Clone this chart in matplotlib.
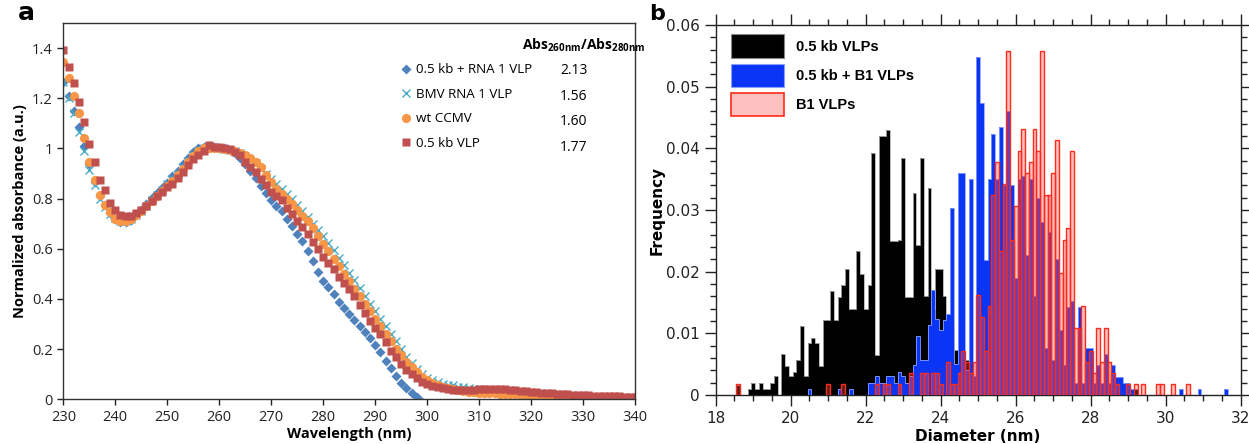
import numpy as np
import matplotlib.pyplot as plt
from matplotlib.ticker import MultipleLocator, FuncFormatter
from matplotlib.patches import Patch

# ---- panel a: normalized absorbance spectra (1 nm steps) ----
wavelength = np.arange(230, 341)

rna1_vlp = [1.265, 1.209, 1.15, 1.085, 1.01, 0.936, 0.865, 0.809, 0.776, 0.743,
            0.719, 0.705, 0.705, 0.716, 0.736, 0.756, 0.78, 0.803, 0.823, 0.843,
            0.863, 0.889, 0.909, 0.936, 0.963, 0.985, 1.0, 1.007, 1.01, 1.007,
            1.003, 1.0, 0.993, 0.98, 0.963, 0.939, 0.909, 0.883, 0.852, 0.823,
            0.796, 0.772, 0.75, 0.72, 0.692, 0.659, 0.629, 0.589, 0.552, 0.509,
            0.472, 0.447, 0.419, 0.389, 0.363, 0.339, 0.316, 0.293, 0.269, 0.243,
            0.216, 0.187, 0.153, 0.123, 0.092, 0.063, 0.043, 0.023, 0.007, -0.01,
            -0.02, -0.02, -0.02, -0.02, -0.02, -0.02, -0.02, -0.02, -0.02, -0.02,
            -0.02, -0.02, -0.02, -0.02, -0.02, -0.02, -0.02, -0.02, -0.02, -0.02,
            -0.02, -0.02, -0.02, -0.02, -0.02, -0.02, -0.02, -0.02, -0.02, -0.02,
            -0.02, -0.02, -0.02, -0.02, -0.02, -0.02, -0.02, -0.02, -0.02, -0.02,
            -0.02]
bmv_rna1 = [1.265, 1.2, 1.14, 1.065, 0.99, 0.915, 0.855, 0.8, 0.765, 0.738,
            0.722, 0.712, 0.712, 0.72, 0.735, 0.752, 0.772, 0.793, 0.815, 0.835,
            0.857, 0.878, 0.9, 0.925, 0.95, 0.972, 0.99, 1.0, 1.005, 1.002,
            1.0, 0.998, 0.995, 0.99, 0.98, 0.97, 0.955, 0.94, 0.92, 0.9,
            0.88, 0.86, 0.84, 0.82, 0.8, 0.775, 0.75, 0.725, 0.7, 0.675,
            0.65, 0.622, 0.595, 0.565, 0.535, 0.505, 0.475, 0.445, 0.412, 0.38,
            0.35, 0.32, 0.29, 0.26, 0.23, 0.2, 0.17, 0.145, 0.12, 0.1,
            0.085, 0.075, 0.068, 0.062, 0.058, 0.055, 0.05, 0.048, 0.045, 0.042,
            0.04, 0.038, 0.036, 0.034, 0.032, 0.03, 0.028, 0.026, 0.025, 0.024,
            0.022, 0.02, 0.019, 0.018, 0.017, 0.016, 0.015, 0.014, 0.013, 0.012,
            0.011, 0.01, 0.01, 0.009, 0.009, 0.008, 0.008, 0.007, 0.007, 0.006,
            0.006]
wt_ccmv = [1.345, 1.28, 1.21, 1.14, 1.04, 0.945, 0.875, 0.815, 0.775, 0.745,
           0.72, 0.71, 0.712, 0.72, 0.735, 0.75, 0.77, 0.79, 0.81, 0.83,
           0.85, 0.87, 0.895, 0.92, 0.945, 0.97, 0.99, 1.0, 1.0, 1.0,
           1.0, 0.998, 0.995, 0.99, 0.982, 0.975, 0.96, 0.945, 0.925, 0.895,
           0.865, 0.84, 0.82, 0.8, 0.78, 0.755, 0.73, 0.71, 0.682, 0.65,
           0.62, 0.59, 0.56, 0.53, 0.5, 0.47, 0.44, 0.41, 0.38, 0.35,
           0.32, 0.29, 0.26, 0.23, 0.2, 0.175, 0.15, 0.13, 0.11, 0.09,
           0.075, 0.065, 0.055, 0.05, 0.045, 0.04, 0.036, 0.033, 0.03, 0.028,
           0.026, 0.025, 0.024, 0.023, 0.022, 0.021, 0.02, 0.019, 0.018, 0.017,
           0.016, 0.015, 0.014, 0.013, 0.012, 0.012, 0.011, 0.011, 0.01, 0.01,
           0.009, 0.009, 0.008, 0.008, 0.007, 0.007, 0.006, 0.006, 0.005, 0.005,
           0.005]
kb05_vlp = [1.392, 1.325, 1.26, 1.187, 1.105, 1.019, 0.947, 0.876, 0.833, 0.783,
            0.753, 0.736, 0.729, 0.732, 0.742, 0.756, 0.772, 0.789, 0.809, 0.828,
            0.847, 0.86, 0.883, 0.907, 0.933, 0.959, 0.972, 0.989, 1.015, 1.007,
            1.005, 1.0, 0.996, 0.985, 0.975, 0.947, 0.925, 0.908, 0.88, 0.853,
            0.825, 0.809, 0.796, 0.763, 0.739, 0.712, 0.685, 0.659, 0.627, 0.597,
            0.569, 0.543, 0.519, 0.489, 0.463, 0.439, 0.412, 0.377, 0.343, 0.313,
            0.285, 0.259, 0.229, 0.192, 0.169, 0.139, 0.116, 0.1, 0.085, 0.07,
            0.06, 0.052, 0.047, 0.043, 0.04, 0.038, 0.038, 0.038, 0.038, 0.038,
            0.04, 0.04, 0.04, 0.04, 0.04, 0.04, 0.038, 0.036, 0.034, 0.032,
            0.03, 0.028, 0.026, 0.025, 0.024, 0.022, 0.02, 0.019, 0.018, 0.017,
            0.016, 0.015, 0.014, 0.013, 0.012, 0.012, 0.011, 0.011, 0.01, 0.01,
            0.01]

series_labels = ['0.5 kb + RNA 1 VLP', 'BMV RNA 1 VLP', 'wt CCMV', '0.5 kb VLP']
abs_ratio = ['2.13', '1.56', '1.60', '1.77']

# ---- panel b: diameter histograms (0.1 nm bins, value = frequency) ----
black_d = [18.6, 18.9, 19.0, 19.1, 19.2, 19.3, 19.4, 19.5, 19.6, 19.8, 19.9, 20.0,
           20.1, 20.2, 20.3, 20.4, 20.5, 20.6, 20.7, 20.8, 20.9, 21.0, 21.1, 21.2,
           21.3, 21.4, 21.5, 21.6, 21.7, 21.8, 21.9, 22.0, 22.1, 22.2, 22.3, 22.4,
           22.5, 22.6, 22.7, 22.8, 22.9, 23.0, 23.1, 23.2, 23.3, 23.4, 23.5, 23.6,
           23.7, 23.8, 23.9, 24.0, 24.1, 24.2, 24.3, 24.4, 24.5, 24.6, 24.7, 24.8,
           24.9, 25.0, 25.1, 25.2, 29.2]
black_f = [0.0016, 0.001, 0.002, 0.001, 0.002, 0.001, 0.001, 0.002, 0.003, 0.0066, 0.0047, 0.003,
           0.0038, 0.0057, 0.0112, 0.003, 0.0085, 0.0093, 0.0085, 0.0047, 0.0122, 0.0122, 0.0169, 0.0122,
           0.0159, 0.0178, 0.0205, 0.014, 0.014, 0.0233, 0.0196, 0.014, 0.0178, 0.0393, 0.0065, 0.042,
           0.042, 0.043, 0.025, 0.025, 0.0252, 0.0384, 0.0159, 0.0159, 0.0327, 0.0243, 0.0384, 0.016,
           0.0336, 0.014, 0.0205, 0.0205, 0.016, 0.013, 0.011, 0.0073, 0.005, 0.004, 0.0057, 0.003,
           0.002, 0.002, 0.001, 0.001, 0.001]

blue_d = [20.5, 21.3, 21.6, 22.1, 22.2, 22.3, 22.4, 22.5, 22.6, 22.7, 22.8, 22.9,
          23.0, 23.1, 23.2, 23.3, 23.4, 23.5, 23.6, 23.7, 23.8, 23.9, 24.0, 24.1,
          24.2, 24.3, 24.4, 24.5, 24.6, 24.7, 24.8, 24.9, 25.0, 25.1, 25.2, 25.3,
          25.4, 25.5, 25.6, 25.7, 25.8, 25.9, 26.0, 26.1, 26.2, 26.3, 26.4, 26.5,
          26.6, 26.7, 26.8, 26.9, 27.0, 27.1, 27.2, 27.3, 27.4, 27.5, 27.6, 27.7,
          27.8, 27.9, 28.0, 28.1, 28.2, 28.3, 28.4, 28.5, 28.6, 28.7, 28.8, 28.9,
          29.0, 29.1, 30.4, 30.9, 31.6]
blue_f = [0.001, 0.001, 0.001, 0.002, 0.002, 0.003, 0.002, 0.002, 0.003, 0.003, 0.002, 0.0038,
          0.003, 0.002, 0.003, 0.0049, 0.0095, 0.0057, 0.0057, 0.0113, 0.017, 0.0124, 0.0105, 0.0122,
          0.0132, 0.0303, 0.005, 0.036, 0.036, 0.004, 0.035, 0.003, 0.0548, 0.0473, 0.0219, 0.035,
          0.0424, 0.035, 0.0434, 0.034, 0.046, 0.034, 0.019, 0.035, 0.0355, 0.0227, 0.035, 0.016,
          0.032, 0.028, 0.0076, 0.0265, 0.0057, 0.022, 0.0105, 0.0049, 0.0142, 0.0152, 0.002, 0.0142,
          0.002, 0.0076, 0.0076, 0.002, 0.0048, 0.002, 0.0066, 0.002, 0.0048, 0.0029, 0.0029, 0.002,
          0.002, 0.001, 0.001, 0.001, 0.001]

red_d = [18.6, 21.0, 21.4, 22.3, 22.5, 22.6, 22.9, 23.2, 23.5, 23.6, 23.8, 23.9,
         24.0, 24.2, 24.3, 24.4, 24.5, 24.6, 24.7, 24.8, 24.9, 25.0, 25.1, 25.2,
         25.3, 25.4, 25.5, 25.6, 25.7, 25.8, 25.9, 26.0, 26.1, 26.2, 26.3, 26.4,
         26.5, 26.6, 26.7, 26.8, 26.9, 27.0, 27.1, 27.2, 27.3, 27.4, 27.5, 27.6,
         27.7, 27.8, 27.9, 28.0, 28.1, 28.2, 28.3, 28.4, 28.5, 28.6, 28.7, 29.0,
         29.2, 29.4, 29.8, 29.9, 30.2, 30.6]
red_f = [0.0018, 0.0018, 0.0018, 0.0018, 0.0018, 0.0018, 0.0018, 0.0036, 0.0036, 0.0036, 0.0036, 0.0036,
         0.0018, 0.0054, 0.0018, 0.0018, 0.0036, 0.0072, 0.0054, 0.0036, 0.0054, 0.0162, 0.0126, 0.0072,
         0.0144, 0.0324, 0.0378, 0.0234, 0.0342, 0.0558, 0.0252, 0.0306, 0.0396, 0.0432, 0.036, 0.0378,
         0.0432, 0.0396, 0.0558, 0.0324, 0.0324, 0.036, 0.0414, 0.0198, 0.0252, 0.027, 0.0396, 0.0108,
         0.0108, 0.0144, 0.0054, 0.0072, 0.0036, 0.0108, 0.0054, 0.0108, 0.0054, 0.0036, 0.0018, 0.0018,
         0.0018, 0.0018, 0.0018, 0.0018, 0.0018, 0.0018]

hist_labels = ['0.5 kb VLPs', '0.5 kb + B1 VLPs', 'B1 VLPs']
bin_w = 0.1
d_first, d_last = 18.5, 31.7


def full_bins(d, f):
    n = int(round((d_last - d_first) / bin_w)) + 1
    out = np.zeros(n)
    idx = np.rint((np.array(d) - d_first) / bin_w).astype(int)
    out[idx] = f
    return out


plt.rcParams['mathtext.fontset'] = 'custom'
plt.rcParams['mathtext.bf'] = 'Open Sans:bold'
plt.rcParams['mathtext.rm'] = 'Open Sans'

fig = plt.figure(figsize=(12.49, 4.44), dpi=100)

# ================= panel a =================
ax = fig.add_axes([0.0507, 0.101, 0.4577, 0.847])
afont = 'Open Sans'
c_blue, c_cyan, c_orange, c_red = '#4f81bd', '#4bacc6', '#f79646', '#c0504d'
ax.plot(wavelength, rna1_vlp, 'D', ms=4.8, color=c_blue, mec='none', label=series_labels[0])
ax.plot(wavelength, bmv_rna1, 'x', ms=5.5, mew=1.0, color=c_cyan, label=series_labels[1])
ax.plot(wavelength, wt_ccmv, 'o', ms=6.6, color=c_orange, mec='none', label=series_labels[2])
ax.plot(wavelength, kb05_vlp, 's', ms=6.4, color=c_red, mec='none', label=series_labels[3])
ax.set_xlim(230, 340)
ax.set_ylim(0, 1.5)
ax.set_xticks(np.arange(230, 341, 10))
ax.set_yticks(np.arange(0, 1.41, 0.2))
ax.yaxis.set_major_formatter(FuncFormatter(lambda v, p: '%g' % round(v, 1)))
ax.tick_params(direction='out', length=4, width=1, labelsize=10.5, colors='#222222')
for lab in ax.get_xticklabels() + ax.get_yticklabels():
    lab.set_family(afont)
for s in ax.spines.values():
    s.set_color('#333333')
    s.set_linewidth(1.0)
ax.set_xlabel('Wavelength (nm)', family=afont, fontweight='bold', fontsize=10.5, labelpad=2)
ax.set_ylabel('Normalized absorbance (a.u.)', family=afont, fontweight='bold', fontsize=10.5, labelpad=4)
ax.legend(loc='upper left', bbox_to_anchor=(0.592, 0.893), frameon=False,
          prop={'family': afont, 'size': 9.6}, handlelength=0.6, handletextpad=0.45,
          labelspacing=0.86, borderaxespad=0, borderpad=0)
row_y = [0.875, 0.806, 0.737, 0.668]
for r, y in zip(abs_ratio, row_y):
    ax.text(0.893, y, r, transform=ax.transAxes, ha='center', va='center',
            family=afont, fontsize=10)
ax.text(0.91, 0.94, r'$\mathbf{Abs_{260nm}/Abs_{280nm}}$', transform=ax.transAxes,
        ha='center', va='center', fontsize=10)
fig.text(0.014, 0.955, 'a', fontsize=18, fontweight='bold', family='DejaVu Sans')

# ================= panel b =================
bx = fig.add_axes([0.573, 0.1104, 0.4203, 0.8333])
edges = d_first - bin_w / 2 + bin_w * np.arange(int(round((d_last - d_first) / bin_w)) + 2)
c_hblue = '#0a35f5'
bx.stairs(full_bins(black_d, black_f), edges, fill=True, color='black', zorder=2)
bx.stairs(full_bins(black_d, black_f), edges, color='#b0b0b0', lw=0.6, zorder=2)
bx.stairs(full_bins(blue_d, blue_f), edges, fill=True, color=c_hblue, zorder=3)
bx.stairs(full_bins(blue_d, blue_f), edges, color='#8aa0ff', lw=0.6, zorder=3)
bx.bar(red_d, red_f, width=bin_w, facecolor=(1.0, 0.32, 0.32, 0.36),
       edgecolor='#ff2a1a', linewidth=1.0, zorder=4)
bx.set_xlim(18, 32)
bx.set_ylim(0, 0.06)
bx.xaxis.set_major_locator(MultipleLocator(2))
bx.xaxis.set_minor_locator(MultipleLocator(0.5))
bx.yaxis.set_major_locator(MultipleLocator(0.01))
bx.yaxis.set_minor_locator(MultipleLocator(0.002))
bx.yaxis.set_major_formatter(FuncFormatter(lambda v, p: '%g' % round(v, 3)))
bx.tick_params(which='both', direction='out', top=True, right=True, colors='#222222', width=1)
bx.tick_params(which='major', length=8, labelsize=11)
bx.tick_params(which='minor', length=4)
for s in bx.spines.values():
    s.set_color('#222222')
    s.set_linewidth(1.0)
bx.set_xlabel('Diameter (nm)', fontweight='bold', fontsize=11, labelpad=2)
bx.set_ylabel('Frequency', fontweight='bold', fontsize=11, labelpad=1)
handles = [Patch(facecolor='black', edgecolor='#888888', lw=0.8),
           Patch(facecolor=c_hblue, edgecolor='#8aa0ff', lw=0.8),
           Patch(facecolor=(1.0, 0.32, 0.32, 0.36), edgecolor='#ff2a1a', lw=1.2)]
bx.legend(handles, hist_labels, loc='upper left', bbox_to_anchor=(0.03, 0.975), frameon=False,
          prop={'family': 'Liberation Sans', 'weight': 'bold', 'size': 10.5},
          handlelength=3.6, handleheight=2.1, labelspacing=0.4, handletextpad=0.8,
          borderaxespad=0, borderpad=0)
fig.text(0.52, 0.955, 'b', fontsize=16, fontweight='bold')

fig.savefig('out.png', dpi=100)
